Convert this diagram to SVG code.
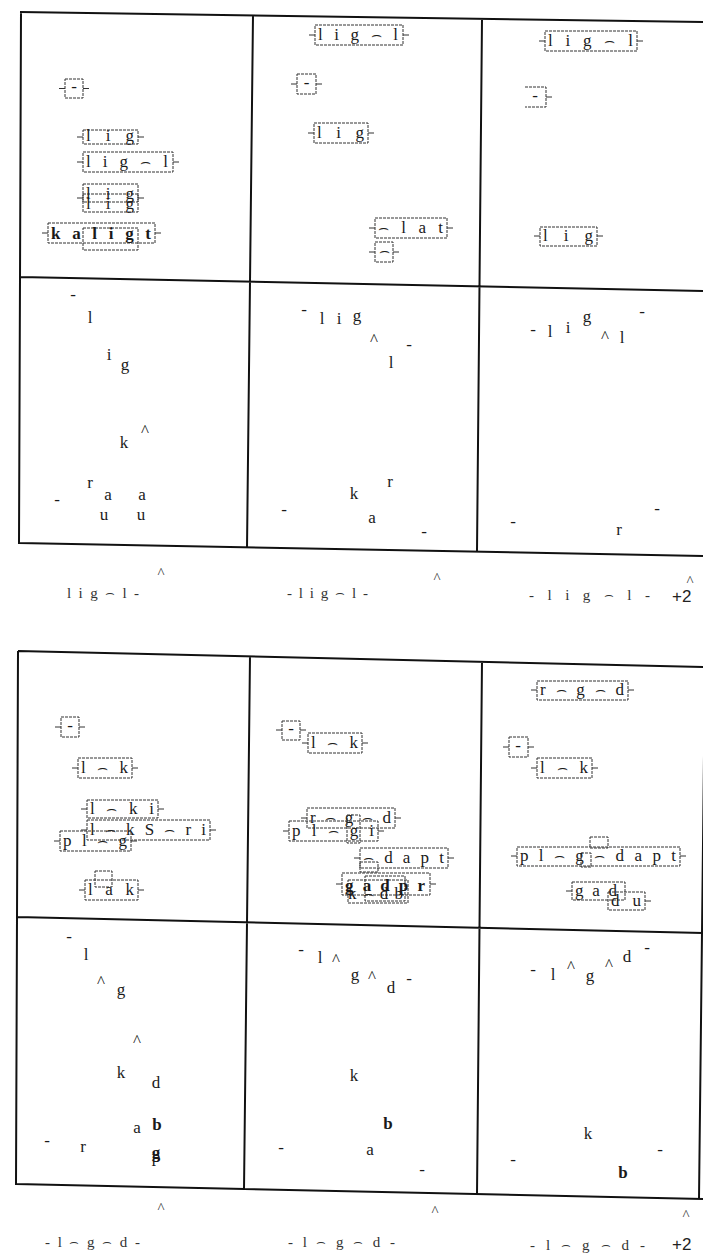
<svg xmlns="http://www.w3.org/2000/svg" width="703" height="1257" viewBox="0 0 703 1257">
<style>
.bg{fill:#fff}
.gl{stroke:#111;stroke-width:2;fill:none}
.b{fill:none;stroke:#333;stroke-width:1;stroke-dasharray:3 1}
.s{stroke:#333;stroke-width:1;fill:none}
.t{font-family:"Liberation Serif","DejaVu Serif","DejaVu Sans",serif;font-size:17px;fill:#1a1a1a}
.c{text-anchor:middle}
.bd{font-weight:bold}
.l{font-family:"Liberation Serif","DejaVu Serif","DejaVu Sans",serif;font-size:15px;fill:#333}
.p{font-family:"Liberation Sans",Arial,sans-serif;font-size:17px;fill:#222}
</style>
<rect class="bg" x="0" y="0" width="703" height="1257"/>
<g id="grid">
<path class="gl" d="M20,12 L703,22 M21,12 L19,544 M19,543 L703,556 M20,277 L703,291 M253,15 L247,548 M482,19 L477,551"/>
<path class="gl" d="M18,651 L703,667 M18,651 L16,1185 M17,917 L703,933 M16,1184 L703,1199 M250,656 L244,1190 M482,661 L477,1195 M705,667 L699,1199"/>
</g>
<g id="connectors"></g>
<!-- grid 1, top-left -->
<g id="n1"><rect class="b" x="65" y="79" width="18" height="19"/><path class="s" d="M59,88.5h6M83,88.5h6"/><text class="t c" x="74" y="92">-</text></g>
<g id="n2"><rect class="b" x="83" y="130" width="55" height="14"/><path class="s" d="M77,137h6M138,137h6"/><text class="t" x="86" y="141" textLength="48" lengthAdjust="spacing">l i g</text></g>
<g id="n3"><rect class="b" x="83" y="152" width="90" height="20"/><path class="s" d="M77,162h6M173,162h6"/><text class="t" x="86" y="167" textLength="82" lengthAdjust="spacing">l i g ⌢ l</text></g>
<g id="n4"><rect class="b" x="83" y="184" width="55" height="18"/><rect class="b" x="83" y="194" width="55" height="18"/><path class="s" d="M77,198h6M138,198h6"/><text class="t" x="86" y="199" textLength="48" lengthAdjust="spacing">l i g</text><text class="t" x="86" y="209" textLength="48" lengthAdjust="spacing">l i g</text></g>
<g id="n5"><rect class="b" x="48" y="223" width="107" height="20"/><rect class="b" x="83" y="228" width="55" height="22"/><path class="s" d="M42,233h6M155,233h6"/><text class="t bd" x="51" y="239" textLength="100" lengthAdjust="spacing">k a l i g t</text></g>
<!-- grid 1, top-middle -->
<g id="n6"><rect class="b" x="315" y="25" width="88" height="20"/><path class="s" d="M309,35h6M403,35h6"/><text class="t" x="318" y="40" textLength="80" lengthAdjust="spacing">l i g ⌢ l</text></g>
<g id="n7"><rect class="b" x="297" y="74" width="19" height="20"/><path class="s" d="M291,84h6M316,84h6"/><text class="t c" x="306.5" y="88">-</text></g>
<g id="n8"><rect class="b" x="314" y="123" width="54" height="20"/><path class="s" d="M308,133h6M368,133h6"/><text class="t" x="317" y="138" textLength="47" lengthAdjust="spacing">l i g</text></g>
<g id="n9"><rect class="b" x="375" y="218" width="72" height="20"/><path class="s" d="M369,228h6M447,228h6"/><text class="t" x="378" y="233" textLength="65" lengthAdjust="spacing">⌢ l a t</text></g>
<g id="n10"><rect class="b" x="375" y="242" width="18" height="20"/><path class="s" d="M369,252h6M393,252h6"/><text class="t c" x="384" y="256">⌢</text></g>
<!-- grid 1, top-right -->
<g id="n11"><rect class="b" x="545" y="31" width="92" height="20"/><path class="s" d="M539,41h6M637,41h6"/><text class="t" x="548" y="46" textLength="85" lengthAdjust="spacing">l i g ⌢ l</text></g>
<g id="n12"><path class="b" d="M525,87H546V107H525"/><path class="s" d="M546,97h6"/><text class="t c" x="535" y="101">-</text></g>
<g id="n13"><rect class="b" x="540" y="227" width="57" height="19"/><path class="s" d="M534,236h6M597,236h6"/><text class="t" x="543" y="241" textLength="50" lengthAdjust="spacing">l i g</text></g>
<!-- grid 1, lower row -->
<g id="r1c1" class="t c">
<text x="73" y="300">-</text><text x="90" y="323">l</text><text x="109" y="360">i</text><text x="125" y="370">g</text>
<text x="124" y="448">k</text><text x="145" y="436">^</text><text x="90" y="488">r</text><text x="108" y="500">a</text><text x="142" y="500">a</text>
<text x="104" y="520">u</text><text x="141" y="520">u</text><text x="57" y="505">-</text>
</g>
<g id="r1c2" class="t c">
<text x="304" y="315">-</text><text x="322" y="324">l</text><text x="339" y="324">i</text><text x="357" y="321">g</text>
<text x="374" y="345">^</text><text x="409" y="350">-</text><text x="391" y="368">l</text>
<text x="390" y="487">r</text><text x="354" y="499">k</text><text x="284" y="515">-</text><text x="372" y="523">a</text><text x="424" y="537">-</text>
</g>
<g id="r1c3" class="t c">
<text x="533" y="335">-</text><text x="550" y="337">l</text><text x="568" y="333">i</text><text x="587" y="322">g</text>
<text x="605" y="342">^</text><text x="622" y="343">l</text><text x="642" y="317">-</text>
<text x="657" y="514">-</text><text x="513" y="527">-</text><text x="619" y="535">r</text>
</g>
<g id="labels1">
<text class="l c" x="161" y="578">^</text><text class="l" x="67" y="598" textLength="72" lengthAdjust="spacing">l i g ⌢ l -</text>
<text class="l c" x="437" y="583">^</text><text class="l" x="287" y="598" textLength="81" lengthAdjust="spacing">- l i g ⌢ l -</text>
<text class="l c" x="690" y="586">^</text><text class="l" x="529" y="600" textLength="121" lengthAdjust="spacing">- l i g ⌢ l -</text>
<text class="p" x="672" y="602">+2</text>
</g>
<!-- grid 2, top-left -->
<g id="n14"><rect class="b" x="61" y="717" width="18" height="20"/><path class="s" d="M55,727h6M79,727h6"/><text class="t c" x="70" y="731">-</text></g>
<g id="n15"><rect class="b" x="78" y="758" width="54" height="20"/><path class="s" d="M72,768h6M132,768h6"/><text class="t" x="81" y="773" textLength="47" lengthAdjust="spacing">l ⌢ k</text></g>
<g id="n16"><rect class="b" x="87" y="800" width="71" height="18"/><path class="s" d="M81,809h6M158,809h6"/><text class="t" x="90" y="814" textLength="64" lengthAdjust="spacing">l ⌢ k i</text></g>
<g id="n17"><rect class="b" x="87" y="820" width="123" height="20"/><path class="s" d="M81,830h6M210,830h6"/><text class="t" x="90" y="835" textLength="116" lengthAdjust="spacing">l ⌢ k S ⌢ r i</text></g>
<g id="n18"><rect class="b" x="60" y="831" width="71" height="20"/><path class="s" d="M54,841h6M131,841h6"/><text class="t" x="63" y="846" textLength="64" lengthAdjust="spacing">p l ⌢ g</text></g>
<g id="n19"><rect class="b" x="85" y="880" width="53" height="20"/><rect class="b" x="95" y="871" width="17" height="16"/><path class="s" d="M79,890h6M138,890h6"/><text class="t" x="88" y="895" textLength="46" lengthAdjust="spacing">l a k</text></g>
<!-- grid 2, top-middle -->
<g id="n20"><rect class="b" x="282" y="721" width="18" height="19"/><path class="s" d="M276,730h6M300,730h6"/><text class="t c" x="291" y="734">-</text></g>
<g id="n21"><rect class="b" x="308" y="733" width="54" height="20"/><path class="s" d="M302,743h6M362,743h6"/><text class="t" x="311" y="748" textLength="47" lengthAdjust="spacing">l ⌢ k</text></g>
<g id="n22"><rect class="b" x="307" y="808" width="88" height="20"/><path class="s" d="M301,818h6M395,818h6"/><text class="t" x="310" y="823" textLength="81" lengthAdjust="spacing">r ⌢ g ⌢ d</text></g>
<g id="n23"><rect class="b" x="289" y="821" width="89" height="20"/><rect class="b" x="347" y="815" width="13" height="28"/><path class="s" d="M283,831h6M378,831h6"/><text class="t" x="292" y="836" textLength="82" lengthAdjust="spacing">p l ⌢ g i</text></g>
<g id="n24"><rect class="b" x="360" y="848" width="88" height="20"/><rect class="b" x="360" y="862" width="18" height="10"/><path class="s" d="M354,858h6M448,858h6"/><text class="t" x="363" y="863" textLength="81" lengthAdjust="spacing">⌢ d a p t</text></g>
<g id="n25"><rect class="b" x="342" y="873" width="88" height="22"/><rect class="b" x="348" y="880" width="60" height="23"/><rect class="b" x="365" y="876" width="40" height="25"/><path class="s" d="M336,884h6M430,884h6"/><text class="t bd" x="345" y="891" textLength="80" lengthAdjust="spacing">g a d p r</text><text class="t" x="348" y="899" textLength="55" lengthAdjust="spacing">k ⌢ d b</text></g>
<!-- grid 2, top-right -->
<g id="n26"><rect class="b" x="537" y="681" width="91" height="19"/><path class="s" d="M531,690h6M628,690h6"/><text class="t" x="540" y="695" textLength="84" lengthAdjust="spacing">r ⌢ g ⌢ d</text></g>
<g id="n27"><rect class="b" x="509" y="737" width="19" height="20"/><path class="s" d="M503,747h6M528,747h6"/><text class="t c" x="518" y="751">-</text></g>
<g id="n28"><rect class="b" x="537" y="758" width="55" height="20"/><path class="s" d="M531,768h6M592,768h6"/><text class="t" x="540" y="773" textLength="48" lengthAdjust="spacing">l ⌢ k</text></g>
<g id="n29"><rect class="b" x="517" y="847" width="163" height="19"/><rect class="b" x="590" y="837" width="18" height="11"/><rect class="b" x="581" y="853" width="10" height="14"/><path class="s" d="M511,856h6M680,856h6"/><text class="t" x="520" y="861" textLength="156" lengthAdjust="spacing">p l ⌢ g ⌢ d a p t</text></g>
<g id="n30"><rect class="b" x="572" y="882" width="53" height="18"/><path class="s" d="M566,891h6"/><text class="t" x="575" y="896" textLength="42" lengthAdjust="spacing">g a d</text></g>
<g id="n31"><rect class="b" x="608" y="892" width="37" height="18"/><path class="s" d="M645,901h6"/><text class="t" x="611" y="906" textLength="30" lengthAdjust="spacing">d u</text></g>
<!-- grid 2, lower row -->
<g id="r2c1" class="t c">
<text x="69" y="942">-</text><text x="86" y="960">l</text><text x="101" y="987">^</text><text x="121" y="995">g</text>
<text x="137" y="1046">^</text><text x="121" y="1078">k</text><text x="156" y="1088">d</text>
<text x="137" y="1133">a</text><text class="bd" x="157" y="1130">b</text><text x="47" y="1146">-</text><text x="83" y="1152">r</text>
<text class="bd" x="156" y="1158">g</text><text x="156" y="1162">p</text>
</g>
<g id="r2c2" class="t c">
<text x="301" y="955">-</text><text x="320" y="963">l</text><text x="336" y="965">^</text><text x="355" y="980">g</text>
<text x="372" y="982">^</text><text x="391" y="993">d</text><text x="409" y="984">-</text>
<text x="354" y="1081">k</text><text class="bd" x="388" y="1129">b</text><text x="281" y="1153">-</text><text x="370" y="1155">a</text><text x="422" y="1175">-</text>
</g>
<g id="r2c3" class="t c">
<text x="533" y="975">-</text><text x="553" y="980">l</text><text x="571" y="972">^</text><text x="590" y="981">g</text>
<text x="609" y="970">^</text><text x="627" y="962">d</text><text x="647" y="953">-</text>
<text x="588" y="1139">k</text><text x="660" y="1155">-</text><text x="513" y="1165">-</text><text class="bd" x="623" y="1178">b</text>
</g>
<g id="labels2">
<text class="l c" x="161" y="1213">^</text><text class="l" x="45" y="1247" textLength="95" lengthAdjust="spacing">- l ⌢ g ⌢ d -</text>
<text class="l c" x="435" y="1216">^</text><text class="l" x="288" y="1247" textLength="107" lengthAdjust="spacing">- l ⌢ g ⌢ d -</text>
<text class="l c" x="686" y="1220">^</text><text class="l" x="530" y="1250" textLength="115" lengthAdjust="spacing">- l ⌢ g ⌢ d -</text>
<text class="p" x="672" y="1250">+2</text>
</g>
</svg>
